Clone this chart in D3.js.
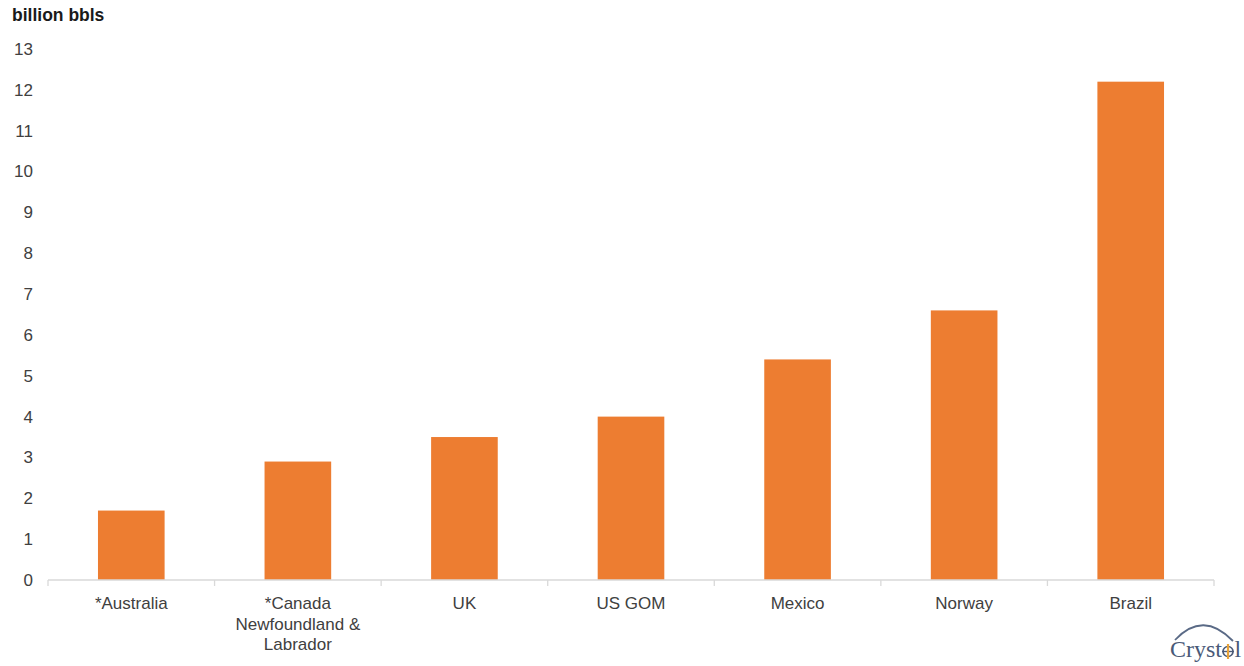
<!DOCTYPE html>
<html>
<head>
<meta charset="utf-8">
<script src="https://cdn.jsdelivr.net/npm/d3@7"></script>
<style>
  html, body { margin: 0; padding: 0; background: #fff; }
  svg { display: block; font-family: "Liberation Sans", Arial, sans-serif; }
</style>
</head>
<body>
<svg id="chart" width="1244" height="666"></svg>
<script>
// Regions and their volumes (billion bbls)
const categories = [
  ["*Australia"],
  ["*Canada", "Newfoundland &", "Labrador"],
  ["UK"],
  ["US GOM"],
  ["Mexico"],
  ["Norway"],
  ["Brazil"]
];
const values = [1.7, 2.9, 3.5, 4.0, 5.4, 6.6, 12.2];
const yTicks = [0, 1, 2, 3, 4, 5, 6, 7, 8, 9, 10, 11, 12, 13];
const unitLabel = "billion bbls";

const svg = d3.select("#chart");
const margin = { left: 48, right: 30, top: 49, bottom: 86 };
const W = 1244, H = 666;
const fontSize = 17;

const x = d3.scaleBand()
  .domain(d3.range(categories.length))
  .range([margin.left, W - margin.right])
  .paddingInner(0.6)
  .paddingOuter(0.3);

const y = d3.scaleLinear()
  .domain([0, 13])
  .range([H - margin.bottom, margin.top]);

// Bars
svg.append("g")
  .selectAll("rect")
  .data(values)
  .join("rect")
  .attr("x", (d, i) => x(i))
  .attr("width", x.bandwidth())
  .attr("y", d => y(d))
  .attr("height", d => y(0) - y(d))
  .attr("fill", "#ED7D31");

// Y axis labels (no axis line)
const yAxis = svg.append("g")
  .attr("transform", `translate(${margin.left - 15},0)`)
  .call(d3.axisLeft(y).tickValues(yTicks).tickSize(0).tickPadding(0));
yAxis.select(".domain").remove();
yAxis.selectAll("text")
  .attr("font-family", "Liberation Sans, Arial, sans-serif")
  .attr("font-size", fontSize)
  .attr("fill", "#404040");

// X axis baseline with separator ticks between categories
const x0 = margin.left, x1 = W - margin.right, y0 = y(0);
const sepScale = d3.scaleLinear().domain([0, categories.length]).range([x0, x1]);
svg.append("line")
  .attr("x1", x0).attr("x2", x1)
  .attr("y1", y0).attr("y2", y0)
  .attr("stroke", "#d9d9d9").attr("stroke-width", 1.3);
svg.append("g")
  .selectAll("line")
  .data(d3.range(categories.length + 1))
  .join("line")
  .attr("x1", d => sepScale(d)).attr("x2", d => sepScale(d))
  .attr("y1", y0).attr("y2", y0 + 6)
  .attr("stroke", "#d9d9d9").attr("stroke-width", 1.3);

// Category labels
const xl = svg.append("g")
  .selectAll("text")
  .data(categories)
  .join("text")
  .attr("x", (d, i) => x(i) + x.bandwidth() / 2)
  .attr("y", y0 + 29)
  .attr("text-anchor", "middle")
  .attr("font-size", fontSize)
  .attr("fill", "#404040");
xl.selectAll("tspan")
  .data(d => d)
  .join("tspan")
  .attr("x", function () { return d3.select(this.parentNode).attr("x"); })
  .attr("dy", (d, j) => j === 0 ? 0 : 20.5)
  .text(d => d);

// Unit title
svg.append("text")
  .attr("x", 12).attr("y", 21)
  .attr("font-size", 17.5)
  .attr("font-weight", "bold")
  .attr("fill", "#1a1a1a")
  .text(unitLabel);

// Logo
const logoColor = "#4a5a78";
const logo = svg.append("g");
logo.append("path")
  .attr("d", "M1175,640 Q1203,610 1233,641")
  .attr("fill", "none")
  .attr("stroke", "#5a6a86")
  .attr("stroke-width", 1.8);
const lx = 1170, ly = 657;
const word = logo.append("text")
  .attr("x", lx).attr("y", ly)
  .attr("font-family", "Liberation Serif, Times New Roman, serif")
  .attr("font-size", 24)
  .attr("fill", logoColor)
  .text("Cryst");
const wLen = word.node().getComputedTextLength();
const ocx = lx + wLen + 6, ocy = ly - 5.5;
logo.append("circle")
  .attr("cx", ocx).attr("cy", ocy).attr("r", 5)
  .attr("fill", "none").attr("stroke", logoColor).attr("stroke-width", 1.6);
logo.append("line")
  .attr("x1", ocx - 6).attr("x2", ocx + 6)
  .attr("y1", ocy).attr("y2", ocy)
  .attr("stroke", logoColor).attr("stroke-width", 1.4);
logo.append("line")
  .attr("x1", ocx).attr("x2", ocx)
  .attr("y1", ocy - 7.5).attr("y2", ocy + 7.5)
  .attr("stroke", "#e8a33a").attr("stroke-width", 2.2);
logo.append("text")
  .attr("x", ocx + 6.5).attr("y", ly)
  .attr("font-family", "Liberation Serif, Times New Roman, serif")
  .attr("font-size", 24)
  .attr("fill", logoColor)
  .text("l");
</script>
</body>
</html>
